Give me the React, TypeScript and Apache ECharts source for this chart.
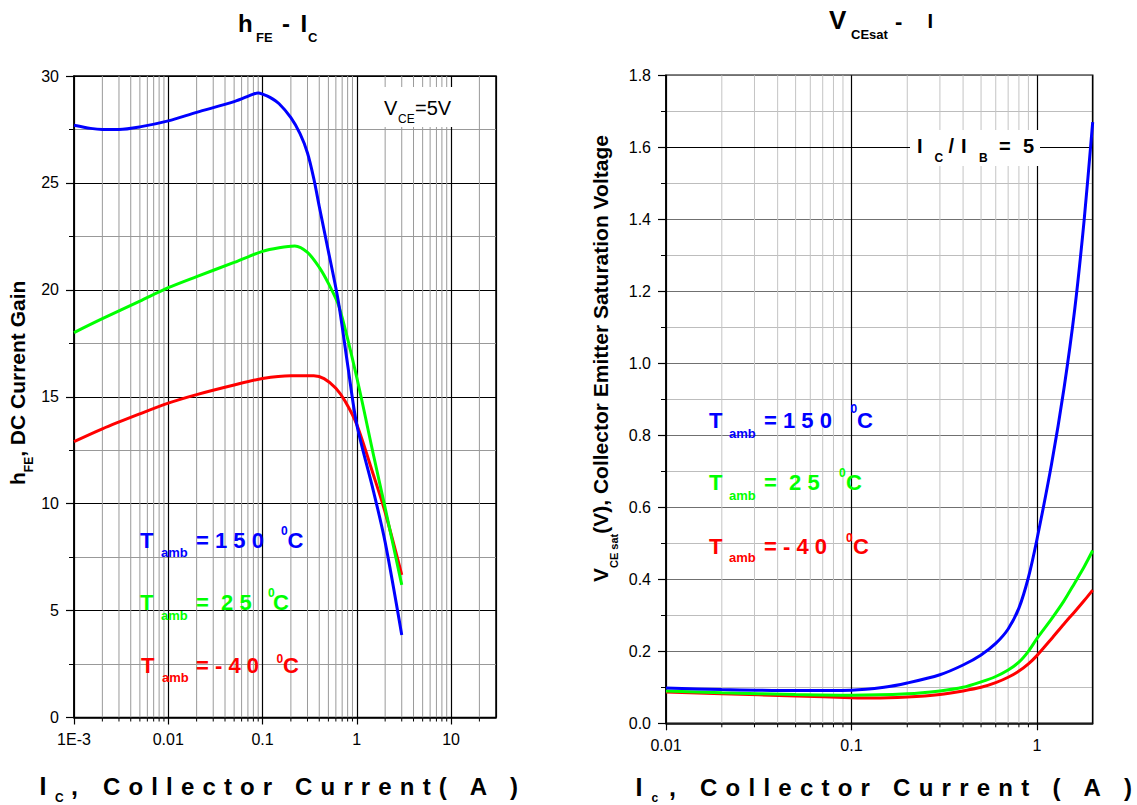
import React, { useEffect, useRef } from "react";
import * as echarts from "echarts";

// ---------- DATA ----------
// hFE vs Ic (left chart), [Ic (A), hFE]
const hfeT150: [number, number][] = [
  [0.001, 27.7], [0.0015, 27.55], [0.002, 27.5], [0.003, 27.5], [0.005, 27.62],
  [0.01, 27.9], [0.02, 28.3], [0.05, 28.8], [0.08, 29.15], [0.09, 29.2], [0.1, 29.15],
  [0.12, 29.0], [0.15, 28.7], [0.2, 28.05], [0.25, 27.3], [0.3, 26.4], [0.35, 25.2],
  [0.4, 23.9], [0.5, 21.8], [0.635, 19.5], [0.8, 16.5], [1.0, 13.7],
  [1.5, 10.6], [2.0, 8.2], [3.0, 3.86],
];
const hfeT25: [number, number][] = [
  [0.001, 18.0], [0.002, 18.65], [0.005, 19.47], [0.01, 20.1], [0.02, 20.62], [0.05, 21.28],
  [0.1, 21.8], [0.15, 21.97], [0.22, 22.05], [0.3, 21.75], [0.4, 21.05], [0.5, 20.3],
  [0.65, 19.2], [1.0, 15.9], [1.5, 12.3], [2.0, 9.8], [3.0, 6.2],
];
const hfeTm40: [number, number][] = [
  [0.001, 12.9], [0.002, 13.5], [0.005, 14.2], [0.01, 14.7], [0.02, 15.1], [0.05, 15.55],
  [0.1, 15.85], [0.2, 15.98], [0.35, 15.98], [0.45, 15.85], [0.6, 15.4], [0.75, 14.8],
  [1.0, 13.7], [1.5, 11.35], [2.0, 9.6], [3.0, 6.67],
];

// VCEsat vs Ic (right chart), [Ic (A), VCEsat (V)]
const vceT150: [number, number][] = [
  [0.01, 0.098], [0.02, 0.094], [0.05, 0.091], [0.1, 0.092], [0.15, 0.1], [0.2, 0.112],
  [0.3, 0.135], [0.4, 0.162], [0.5, 0.19], [0.6, 0.222], [0.7, 0.262], [0.8, 0.32],
  [0.9, 0.405], [1.0, 0.51], [1.2, 0.72], [1.4, 0.93], [1.6, 1.15], [1.8, 1.4], [2.0, 1.67],
];
const vceT25: [number, number][] = [
  [0.01, 0.09], [0.02, 0.085], [0.05, 0.08], [0.1, 0.078], [0.2, 0.082], [0.3, 0.09],
  [0.4, 0.1], [0.5, 0.115], [0.6, 0.13], [0.7, 0.148], [0.8, 0.17], [0.9, 0.2],
  [1.0, 0.235], [1.2, 0.29], [1.4, 0.34], [1.6, 0.39], [1.8, 0.435], [2.0, 0.48],
];
const vceTm40: [number, number][] = [
  [0.01, 0.087], [0.02, 0.082], [0.05, 0.076], [0.1, 0.071], [0.13, 0.07], [0.2, 0.073],
  [0.3, 0.08], [0.4, 0.09], [0.5, 0.1], [0.6, 0.113], [0.7, 0.128], [0.8, 0.145],
  [0.9, 0.165], [1.0, 0.188], [1.2, 0.235], [1.4, 0.276], [1.6, 0.31], [1.8, 0.341], [2.0, 0.37],
];

const hfeXLabels: Record<number, string> = { [-3]: "1E-3", [-2]: "0.01", [-1]: "0.1", 0: "1", 1: "10" };
const vceXLabels: Record<number, string> = { [-2]: "0.01", [-1]: "0.1", 0: "1" };
const hfeXRange = [0.001, 30];
const vceXRange = [0.01, 2];
const hfeYRange = [0, 30];
const vceYRange = [0, 1.8];

const BLUE = "#0000ff";
const GREEN = "#00ff00";
const RED = "#ff0000";
const FONT = "'Liberation Sans', Arial, sans-serif";

// ---------- helpers ----------
let measureCtx: CanvasRenderingContext2D | null = null;
function measure(t: string, size: number, bold: boolean) {
  if (!measureCtx) measureCtx = document.createElement("canvas").getContext("2d");
  measureCtx!.font = `${bold ? "bold " : ""}${size}px ${FONT}`;
  return measureCtx!.measureText(t).width;
}

function txt(t: string, x: number, baseline: number, size: number, color: string, bold = true) {
  return {
    type: "text",
    x,
    y: baseline - 0.35 * size,
    z: 100,
    silent: true,
    style: {
      text: t,
      fontSize: size,
      fontFamily: FONT,
      fontWeight: bold ? "bold" : "normal",
      fill: color,
      align: "left",
      verticalAlign: "middle",
    },
  };
}

function spaced(str: string, x0: number, x1: number, baseline: number, size: number) {
  const chars = Array.from(str);
  const widths = chars.map((c) => measure(c, size, true));
  const total = widths.reduce((a, b) => a + b, 0);
  const gap = (x1 - x0 - total) / (chars.length - 1);
  let x = x0;
  const out: any[] = [];
  chars.forEach((c, i) => {
    if (c !== " ") out.push(txt(c, x, baseline, size, "#000"));
    x += widths[i] + gap;
  });
  return out;
}

type Part = { t: string; size: number; dy?: number };
function rotatedName(parts: Part[], x: number, y: number) {
  let pos = 0;
  const children: any[] = [];
  parts.forEach((p) => {
    children.push(txt(p.t, pos, p.dy || 0, p.size, "#000"));
    pos += measure(p.t, p.size, true);
  });
  return { type: "group", x, y, rotation: Math.PI / 2, z: 100, children };
}

function legendRow(color: string, tx: number, b: number, ambX: number, ambB: number, val: string, valX: number, supX: number, supB: number, cX: number) {
  return [
    txt("T", tx, b, 22, color),
    txt("amb", ambX, ambB, 13, color),
    txt(val, valX, b, 22, color),
    txt("0", supX, supB, 12, color),
    txt("C", cX, b, 22, color),
  ];
}

function minorValues(range: number[]) {
  const out: number[] = [];
  const e0 = Math.floor(Math.log10(range[0]));
  const e1 = Math.ceil(Math.log10(range[1]));
  for (let e = e0; e <= e1; e++) {
    for (let k = 2; k <= 9; k++) {
      const v = k * Math.pow(10, e);
      if (v > range[0] && v < range[1] * 0.999) out.push(v);
    }
  }
  return out;
}

function minorGridSeries(idx: number, xs: number[], yr: number[], color: string) {
  return {
    type: "custom",
    xAxisIndex: idx,
    yAxisIndex: idx,
    silent: true,
    clip: false,
    z: 1,
    data: xs.map((v) => [v, yr[0]]),
    renderItem: (_params: any, api: any) => {
      const v = api.value(0);
      const p0 = api.coord([v, yr[0]]);
      const p1 = api.coord([v, yr[1]]);
      return {
        type: "group",
        children: [
          { type: "line", shape: { x1: p0[0], y1: p0[1], x2: p1[0], y2: p1[1] }, style: { stroke: color, lineWidth: 1 } },
          { type: "line", shape: { x1: p0[0], y1: p0[1], x2: p0[0], y2: p0[1] + 4 }, style: { stroke: "#000", lineWidth: 1 } },
        ],
      };
    },
  };
}

function curve(idx: number, data: [number, number][], color: string, extra: any = {}) {
  return {
    type: "line",
    xAxisIndex: idx,
    yAxisIndex: idx,
    data,
    showSymbol: false,
    smooth: 0.3,
    z: 5,
    lineStyle: { color, width: 3 },
    itemStyle: { color },
    ...extra,
  };
}

function logXAxis(idx: number, range: number[], labels: Record<number, string>) {
  return {
    type: "log",
    logBase: 10,
    gridIndex: idx,
    min: range[0],
    max: range[1],
    axisLine: { show: true, onZero: false, lineStyle: { color: "#000", width: 1.5 } },
    axisTick: { show: true, length: 7, lineStyle: { color: "#000", width: 1.2 } },
    axisLabel: {
      color: "#000",
      fontSize: 16,
      fontFamily: FONT,
      margin: 14,
      showMaxLabel: false,
      formatter: (v: number) => {
        const e = Math.round(Math.log10(v));
        return labels[e] ?? "";
      },
    },
    splitLine: { show: true, lineStyle: { color: "#000", width: 1.2 } },
  };
}

function valueYAxis(idx: number, range: number[], interval: number, major: string, minor: string, dec: number) {
  return {
    type: "value",
    gridIndex: idx,
    min: range[0],
    max: range[1],
    interval,
    axisLine: { show: true, onZero: false, lineStyle: { color: "#000", width: 1.5 } },
    axisTick: { show: true, length: 8, lineStyle: { color: "#000", width: 1.2 } },
    minorTick: { show: true, splitNumber: 2, length: 5, lineStyle: { color: "#000", width: 1 } },
    axisLabel: {
      color: "#000",
      fontSize: 16,
      fontFamily: FONT,
      margin: 15,
      formatter: (v: number) => v.toFixed(dec),
    },
    splitLine: { show: true, lineStyle: { color: major, width: 1.2 } },
    minorSplitLine: { show: true, lineStyle: { color: minor, width: 1 } },
  };
}

export default function App() {
  const ref = useRef<HTMLDivElement>(null);
  useEffect(() => {
    document.body.style.margin = "0";
    const chart = echarts.init(ref.current!, undefined, { renderer: "svg" });

    const graphics: any[] = [
      // left title
      txt("h", 238, 31.7, 24, "#000"),
      txt("FE", 256, 41.7, 13, "#000"),
      txt("-", 282, 31.7, 24, "#000"),
      txt("I", 300.5, 31.7, 24, "#000"),
      txt("C", 308, 41.7, 13, "#000"),
      // right title
      txt("V", 829, 29.3, 26, "#000"),
      txt("CEsat", 851, 39.5, 13, "#000"),
      txt("-", 895, 29, 22, "#000"),
      txt("I", 927.5, 28, 20, "#000"),
      // x axis names
      txt("I", 39.5, 795, 25, "#000"),
      txt("C", 55, 802, 12, "#000"),
      txt(",", 71, 795, 25, "#000"),
      ...spaced("Collector Current( A )", 103, 518, 795, 24),
      txt("I", 635.5, 796, 25, "#000"),
      txt("c", 651.5, 802, 12, "#000"),
      txt(",", 669, 796, 25, "#000"),
      ...spaced("Collector Current ( A )", 700, 1132, 796, 24),
      // y axis names
      rotatedName([
        { t: "h", size: 21 },
        { t: "FE", size: 12, dy: 8 },
        { t: ", DC Current Gain", size: 21 },
      ], 25, 485),
      rotatedName([
        { t: "V", size: 21 },
        { t: "CE sat", size: 11, dy: 9.5 },
        { t: "(V), Collector Emitter Saturation Voltage", size: 21 },
      ], 608, 582),
      // VCE box
      { type: "rect", shape: { x: 378, y: 87, width: 78, height: 40 }, style: { fill: "#fff" }, z: 99, silent: true },
      txt("V", 384, 115, 20, "#000", false),
      txt("CE", 398, 123.3, 12, "#000", false),
      txt("=5V", 415, 115, 20, "#000", false),
      // IC/IB box
      { type: "rect", shape: { x: 910, y: 130, width: 130, height: 36 }, style: { fill: "#fff" }, z: 99, silent: true },
      txt("I", 917, 152.7, 20, "#000"),
      txt("C", 934.5, 161.7, 12, "#000"),
      txt("/", 948.5, 152.7, 20, "#000"),
      txt("I", 961, 152.7, 20, "#000"),
      txt("B", 979, 161.7, 12, "#000"),
      txt("=", 999, 152.7, 20, "#000"),
      txt("5", 1023, 152.7, 20, "#000"),
      // left legends
      ...legendRow(BLUE, 140, 548.3, 161, 556.7, "= 1 5 0", 196, 281, 535.5, 287.5),
      ...legendRow(GREEN, 140, 610, 161, 620, "=  2 5", 196, 268, 597, 273),
      ...legendRow(RED, 141, 673.3, 162, 681.7, "= - 4 0", 196, 276.5, 663, 283),
      // right legends
      ...legendRow(BLUE, 709, 428.3, 729, 437.7, "= 1 5 0", 764, 850.5, 413.5, 857),
      ...legendRow(GREEN, 709, 490, 729, 500, "=  2 5", 764, 839, 477, 846),
      ...legendRow(RED, 709, 554, 729, 561.7, "= - 4 0", 764, 846, 541.7, 853),
    ];

    const option: any = {
      animation: false,
      backgroundColor: "#fff",
      textStyle: { fontFamily: FONT },
      grid: [
        { left: 74, top: 76, width: 422, height: 641.5, show: true, borderColor: "#000", borderWidth: 1.5 },
        { left: 666, top: 75.3, width: 426.7, height: 648, show: true, borderColor: "#000", borderWidth: 1.5 },
      ],
      xAxis: [logXAxis(0, hfeXRange, hfeXLabels), logXAxis(1, vceXRange, vceXLabels)],
      yAxis: [
        valueYAxis(0, hfeYRange, 5, "#000", "#999", 0),
        valueYAxis(1, vceYRange, 0.2, "#707070", "#bdbdbd", 1),
      ],
      series: [
        minorGridSeries(0, minorValues(hfeXRange), hfeYRange, "#9a9a9a"),
        minorGridSeries(1, minorValues(vceXRange), vceYRange, "#c4c4c4"),
        curve(0, hfeTm40, RED),
        curve(0, hfeT25, GREEN),
        curve(0, hfeT150, BLUE),
        curve(1, vceTm40, RED),
        curve(1, vceT25, GREEN),
        curve(1, vceT150, BLUE, {
          markLine: {
            silent: true,
            symbol: "none",
            label: { show: false },
            lineStyle: { color: "#000", width: 1, type: "solid" },
            data: [{ yAxis: 1.6 }],
          },
        }),
      ],
      graphic: graphics,
    };
    chart.setOption(option);
    return () => chart.dispose();
  }, []);
  return <div ref={ref} style={{ position: "absolute", left: 0, top: 0, width: 1137, height: 805 }} />;
}
